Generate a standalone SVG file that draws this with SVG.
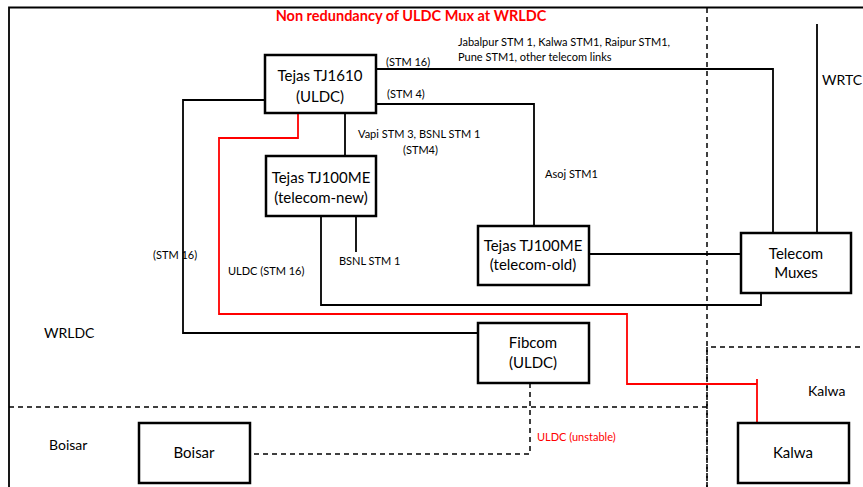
<svg xmlns="http://www.w3.org/2000/svg" width="863" height="487" viewBox="0 0 863 487">
<style>
.box{fill:#fff;stroke:#000;stroke-width:2.5}
.ln{fill:none;stroke:#000;stroke-width:1.8}
.red{fill:none;stroke:#f00;stroke-width:1.8}
.dash{fill:none;stroke:#000;stroke-width:1.5;stroke-dasharray:5 4}
.bt{font-family:Lato,"Liberation Sans",sans-serif;font-size:15px;fill:#000;text-anchor:middle}
.lb{font-family:Lato,"Liberation Sans",sans-serif;font-size:11px;fill:#000}
.zl{font-family:Lato,"Liberation Sans",sans-serif;font-size:14px;fill:#000}
</style>
<rect width="863" height="487" fill="#fff"/>
<g id="frame">
<path class="ln" d="M9,487 V7.5 H863"/>
<path class="dash" d="M707,8 V487"/>
<path class="dash" d="M9,407 H707"/>
<path class="dash" d="M707,487 V347 H863"/>
</g>
<text x="411" y="21" text-anchor="middle" font-family="Lato,'Liberation Sans',sans-serif" font-size="14.5" font-weight="bold" fill="#f00">Non redundancy of ULDC Mux at WRLDC</text>
<g id="connectors">
<path class="ln" d="M376,69 H773 V233"/>
<path class="ln" d="M817,24 V233"/>
<path class="ln" d="M376,104 H534 V226"/>
<path class="ln" d="M345,113 V156"/>
<path class="ln" d="M356,216 V252"/>
<path class="ln" d="M321,216 V305 H761 V293"/>
<path class="ln" d="M589,254 H741"/>
<path class="ln" d="M264,100 H183 V333 H478"/>
<path class="red" d="M298,113 V138 H219 V314 H627 V384 H757"/>
<path class="red" d="M757,379 V423"/>
<path class="dash" d="M530,383 V454 H250"/>
</g>
<g id="labels">
<text class="lb" x="386" y="66">(STM 16)</text>
<text class="lb" x="458" y="46">Jabalpur STM 1, Kalwa STM1, Raipur STM1,</text>
<text class="lb" x="458" y="61">Pune STM1, other telecom links</text>
<text class="lb" x="387" y="98">(STM 4)</text>
<text class="lb" x="358" y="138">Vapi STM 3, BSNL STM 1</text>
<text class="lb" x="403" y="154">(STM4)</text>
<text class="lb" x="545" y="178">Asoj STM1</text>
<text class="lb" x="339" y="265">BSNL STM 1</text>
<text class="lb" x="153" y="259">(STM 16)</text>
<text class="lb" x="228" y="275">ULDC (STM 16)</text>
<text class="lb" x="537" y="441" style="fill:#f00">ULDC (unstable)</text>
<text class="zl" x="822" y="85">WRTC</text>
<text class="zl" x="44" y="338">WRLDC</text>
<text class="zl" x="49" y="450">Boisar</text>
<text class="zl" x="808" y="396">Kalwa</text>
</g>
<g id="tj1610"><rect class="box" x="265" y="55" width="111" height="58"/><text class="bt" x="320" y="81">Tejas TJ1610</text><text class="bt" x="320" y="102">(ULDC)</text></g>
<g id="tj100me-new"><rect class="box" x="266" y="156" width="110" height="60"/><text class="bt" x="321" y="183">Tejas TJ100ME</text><text class="bt" x="321" y="203">(telecom-new)</text></g>
<g id="tj100me-old"><rect class="box" x="478" y="226" width="111" height="59"/><text class="bt" x="533" y="251">Tejas TJ100ME</text><text class="bt" x="533" y="270">(telecom-old)</text></g>
<g id="telecom-muxes"><rect class="box" x="741" y="233" width="110" height="60"/><text class="bt" x="796" y="259">Telecom</text><text class="bt" x="796" y="278">Muxes</text></g>
<g id="fibcom"><rect class="box" x="478" y="323" width="111" height="60"/><text class="bt" x="533" y="348">Fibcom</text><text class="bt" x="533" y="368">(ULDC)</text></g>
<g id="boisar"><rect class="box" x="139" y="423" width="111" height="60"/><text class="bt" x="194" y="458">Boisar</text></g>
<g id="kalwa"><rect class="box" x="738" y="423" width="111" height="60"/><text class="bt" x="793" y="458">Kalwa</text></g>
</svg>
